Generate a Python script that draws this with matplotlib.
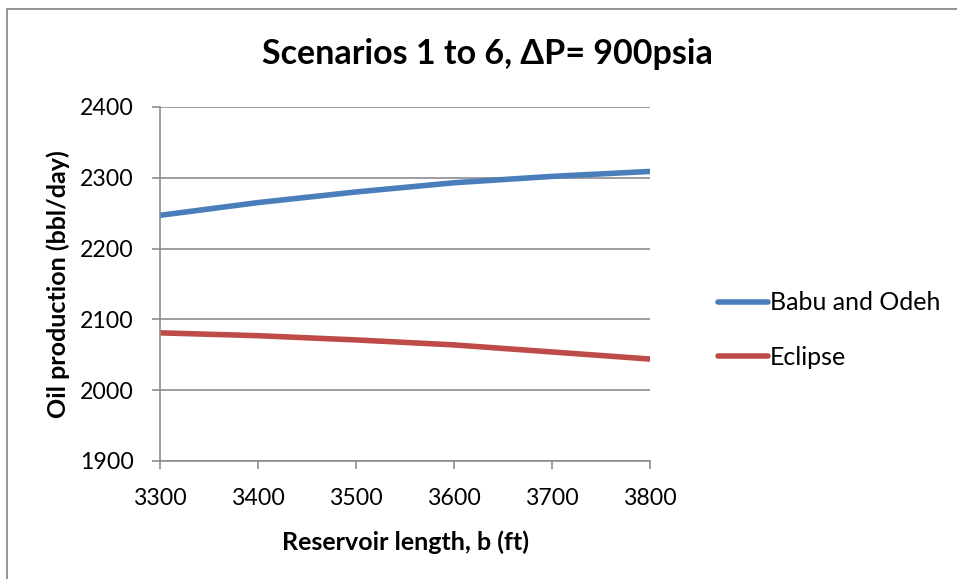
import matplotlib.pyplot as plt
from matplotlib.patches import Rectangle

plt.rcParams['font.family'] = ['Lato', 'DejaVu Sans']

# valeurs
longueur = [3300, 3400, 3500, 3600, 3700, 3800]
babu_odeh = [2247, 2265, 2280, 2293, 2302, 2309]
eclipse = [2081, 2077, 2071, 2064, 2054, 2044]
y_ticks = [1900, 2000, 2100, 2200, 2300, 2400]

fig = plt.figure(figsize=(9.57, 5.79), dpi=100)
# cadre gris autour du graphique
fig.patches.append(Rectangle((0.0078, -0.05), 1.2, 1.0353, transform=fig.transFigure,
                             fill=False, edgecolor='#8c8c8c', linewidth=1.3))

ax = fig.add_axes([0.1672, 0.2038, 0.512, 0.6114])
ax.plot(longueur, babu_odeh, color='#4a7ebb', linewidth=4, label='Babu and Odeh',
        solid_capstyle='round')
ax.plot(longueur, eclipse, color='#be4b48', linewidth=4, label='Eclipse',
        solid_capstyle='round')

ax.set_xlim(3300, 3800)
ax.set_ylim(1900, 2400)
ax.set_yticks(y_ticks)
ax.set_xticks(longueur)
ax.yaxis.grid(True, color='#8c8c8c', linewidth=1.2)
ax.set_axisbelow(True)
for s in ['top', 'right']:
    ax.spines[s].set_visible(False)
for s in ['left', 'bottom']:
    ax.spines[s].set_color('#8c8c8c')
    ax.spines[s].set_linewidth(1.2)
ax.tick_params(axis='both', colors='#8c8c8c', length=5.8, width=1.2, labelsize=16.7,
               labelcolor='black')
ax.tick_params(axis='y', pad=13)
ax.tick_params(axis='x', pad=14)

ax.set_xlabel('Reservoir length, b (ft)', fontsize=18, fontweight='bold', labelpad=15)
ax.set_ylabel('Oil production (bbl/day)', fontsize=18, fontweight='bold', labelpad=7)
fig.text(0.509, 0.907, 'Scenarios 1 to 6, ΔP= 900psia', ha='center', va='center',
         fontsize=24.5, fontweight='bold')

ax.legend(loc='center left', bbox_to_anchor=(1.092, 0.37), frameon=False, fontsize=18,
          handlelength=2.0, handletextpad=0.1, labelspacing=1.25)

fig.savefig('out.png', dpi=100)
